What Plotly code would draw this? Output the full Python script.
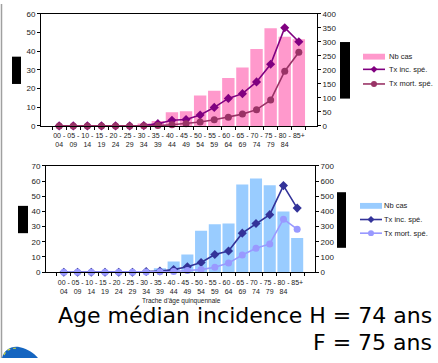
import plotly.graph_objects as go

W, H = 438, 363

# Age bands (5-year groups)
age_bands = ["00 -<br>04", "05 -<br>09", "10 -<br>14", "15 -<br>19", "20 -<br>24", "25 -<br>29",
             "30 -<br>34", "35 -<br>39", "40 -<br>44", "45 -<br>49", "50 -<br>54", "55 -<br>59",
             "60 -<br>64", "65 -<br>69", "70 -<br>74", "75 -<br>79", "80 -<br>84", "85+"]

# Upper panel (pink)
top_cases = [0, 0, 0, 0, 0, 0, 1.3, 2.6, 7.3, 7.8, 16.2, 18.8, 25.6, 31.3, 41.2, 52.2, 47.7, 46.4]
top_incidence = [0, 0, 0, 0, 0, 0, 1, 8, 20, 23, 39, 66, 98, 115, 157, 220, 350, 300]
top_mortality = [0, 0, 0, 0, 0, 0, 0.5, 1, 4, 8, 14, 22, 31, 42, 58, 92, 195, 263]

# Lower panel (blue)
bot_cases = [0, 0, 0, 0, 0, 0, 0.5, 2.6, 7.1, 11.6, 27.2, 31.5, 32.1, 57.8, 61.7, 57.2, 40, 22.5]
bot_incidence = [0, 0, 0, 0, 0, 0, 4, 8, 17, 36, 64, 116, 139, 257, 321, 379, 570, 422]
bot_mortality = [0, 0, 0, 0, 0, 0, 1, 2, 4, 11, 17, 32, 60, 113, 158, 186, 349, 283]

series_names = ["Nb cas", "Tx inc. spé.", "Tx mort. spé."]
top_colors = ["#FF99CC", "#800080", "#993366"]
bot_colors = ["#99CCFF", "#333399", "#9999FF"]


def px(x):
    return x / W


def py(y):
    return 1 - y / H


fig = go.Figure()

# upper panel traces
fig.add_trace(go.Bar(x=age_bands, y=top_cases, marker=dict(color=top_colors[0], line_width=0),
                     xaxis="x", yaxis="y", showlegend=False))
fig.add_trace(go.Scatter(x=age_bands, y=top_incidence, mode="lines+markers", xaxis="x", yaxis="y2",
                         line=dict(color=top_colors[1], width=1.6),
                         marker=dict(symbol="diamond", size=7, color=top_colors[1]),
                         cliponaxis=False, showlegend=False))
fig.add_trace(go.Scatter(x=age_bands, y=top_mortality, mode="lines+markers", xaxis="x", yaxis="y2",
                         line=dict(color=top_colors[2], width=1.6),
                         marker=dict(symbol="circle", size=7, color=top_colors[2]),
                         cliponaxis=False, showlegend=False))

# lower panel traces
fig.add_trace(go.Bar(x=age_bands, y=bot_cases, marker=dict(color=bot_colors[0], line_width=0),
                     xaxis="x2", yaxis="y3", showlegend=False))
fig.add_trace(go.Scatter(x=age_bands, y=bot_incidence, mode="lines+markers", xaxis="x2", yaxis="y4",
                         line=dict(color=bot_colors[1], width=1.6),
                         marker=dict(symbol="diamond", size=7, color=bot_colors[1]),
                         cliponaxis=False, showlegend=False))
fig.add_trace(go.Scatter(x=age_bands, y=bot_mortality, mode="lines+markers", xaxis="x2", yaxis="y4",
                         line=dict(color=bot_colors[2], width=1.6),
                         marker=dict(symbol="circle", size=7, color=bot_colors[2]),
                         cliponaxis=False, showlegend=False))

tick_font = dict(family="Liberation Sans, Arial, sans-serif", size=8, color="#222")
xtick_font = dict(family="Liberation Sans, Arial, sans-serif", size=7, color="#222")

xcommon = dict(type="category", showline=True, linecolor="black", linewidth=1, mirror=True,
               ticks="outside", ticklen=3, tickcolor="black", tickson="boundaries",
               ticklabelstandoff=3,
               tickfont=xtick_font, showgrid=False, zeroline=False, tickangle=0)
ycommon = dict(showline=True, linecolor="black", linewidth=1, ticks="outside", ticklen=3,
               tickcolor="black", tickfont=tick_font, showgrid=False, zeroline=False)

fig.update_layout(
    width=W, height=H, margin=dict(l=0, r=0, t=0, b=0),
    paper_bgcolor="white", plot_bgcolor="white",
    bargap=0.12, showlegend=False,
    xaxis=dict(domain=[px(41), px(317)], anchor="y", **xcommon),
    yaxis=dict(domain=[py(125), py(10)], range=[0, 60], dtick=10, anchor="x", **ycommon),
    yaxis2=dict(overlaying="y", side="right", range=[0, 400], dtick=50, anchor="x", **ycommon),
    xaxis2=dict(domain=[px(46), px(315)], anchor="y3", **xcommon),
    yaxis3=dict(domain=[py(275), py(166)], range=[0, 70], dtick=10, anchor="x2", **ycommon),
    yaxis4=dict(overlaying="y3", side="right", range=[0, 700], dtick=100, anchor="x2", **ycommon),
)

shapes = []
annotations = []


def rect(x0, y0, x1, y1, color):
    shapes.append(dict(type="rect", xref="paper", yref="paper", x0=px(x0), x1=px(x1),
                       y0=py(y1), y1=py(y0), fillcolor=color, line_width=0, layer="above"))


def legend_block(x0, rows, colors, text_x):
    sw = 22
    # bar swatch
    rect(x0, rows[0] - 3, x0 + sw, rows[0] + 3, colors[0])
    # line swatches with markers
    for i, (y, c) in enumerate(zip(rows[1:], colors[1:])):
        shapes.append(dict(type="line", xref="paper", yref="paper", x0=px(x0), x1=px(x0 + sw),
                           y0=py(y), y1=py(y), line=dict(color=c, width=1.6)))
        cx = x0 + sw / 2
        if i == 0:
            d = 3.5
            path = (f"M {px(cx)} {py(y - d)} L {px(cx + d)} {py(y)} "
                    f"L {px(cx)} {py(y + d)} L {px(cx - d)} {py(y)} Z")
            shapes.append(dict(type="path", xref="paper", yref="paper", path=path,
                               fillcolor=c, line_width=0))
        else:
            r = 3
            shapes.append(dict(type="circle", xref="paper", yref="paper",
                               x0=px(cx - r), x1=px(cx + r), y0=py(y + r), y1=py(y - r),
                               fillcolor=c, line_width=0))
    for y, name in zip(rows, series_names):
        annotations.append(dict(x=px(text_x), y=py(y), xref="paper", yref="paper", text=name,
                                showarrow=False, xanchor="left", yanchor="middle",
                                font=dict(family="Liberation Sans, Arial, sans-serif",
                                          size=7.5, color="#222")))


legend_block(363, [54, 67, 82], top_colors, 387)
legend_block(360, [207, 221, 235], bot_colors, 382)

# black label blocks beside the axes
rect(12, 54, 21, 82, "black")
rect(340, 39, 350, 97, "black")
rect(18, 207, 28, 235, "black")
rect(337, 193, 346, 250, "black")

# slide border on the left
shapes.append(dict(type="line", xref="paper", yref="paper", x0=px(1.5), x1=px(1.5), y0=0, y1=1,
                   line=dict(color="#A0A0A0", width=1.5)))

# corner logo
logo = (f"M {px(2)} {py(363)} C {px(4)} {py(354)}, {px(12)} {py(350)}, {px(20)} {py(352)} "
        f"C {px(28)} {py(354)}, {px(34)} {py(358)}, {px(38)} {py(363)} Z")
shapes.append(dict(type="path", xref="paper", yref="paper", path=logo,
                   fillcolor="#1565C0", line_width=0))
shapes.append(dict(type="path", xref="paper", yref="paper",
                   path=(f"M {px(4)} {py(360)} C {px(6)} {py(355)}, {px(10)} {py(353)}, "
                         f"{px(16)} {py(353)}"),
                   line=dict(color="#C8D23C", width=1.2, dash="dot")))

# axis title of lower panel
annotations.append(dict(x=px(181), y=py(305), xref="paper", yref="paper",
                        text="Trache d'âge quinquennale", showarrow=False,
                        xanchor="center", yanchor="middle",
                        font=dict(family="Liberation Sans, Arial, sans-serif", size=6.5, color="#222")))

# median age text, right-aligned block
big = dict(family="DejaVu Sans, sans-serif", size=22, color="black")
annotations.append(dict(x=px(434), y=py(319), xref="paper", yref="paper",
                        text="Age médian incidence H = 74 ans", showarrow=False,
                        xanchor="right", yanchor="middle", font=big))
annotations.append(dict(x=px(434), y=py(347), xref="paper", yref="paper",
                        text="F = 75 ans", showarrow=False,
                        xanchor="right", yanchor="middle", font=big))

fig.update_layout(shapes=shapes, annotations=annotations)

fig.write_html("out.html")
